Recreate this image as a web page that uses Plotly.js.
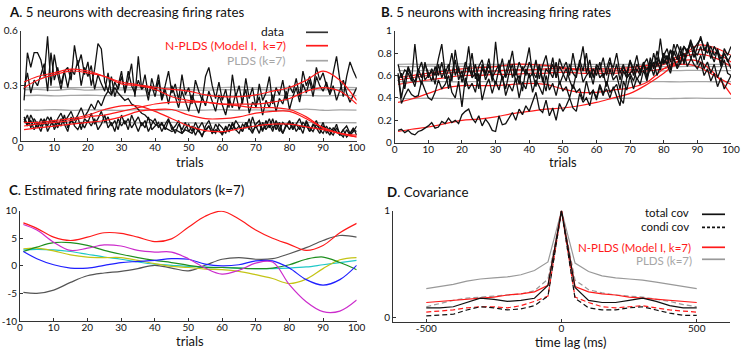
<!DOCTYPE html>
<html>
<head>
<meta charset="utf-8">
<script src="https://cdn.plot.ly/plotly-3.0.1.min.js"></script>
<style>
  body { margin: 0; background: #fff; }
  #chart { width: 747px; height: 351px; }
</style>
</head>
<body>
<div id="chart"></div>
<script>
// ---- shared x values ----
var trials = Array.from({ length: 100 }, (_, i) => i + 1)
var knots = [1, 5, 10, 15, 20, 25, 30, 35, 40, 45, 50, 55, 60, 65, 70, 75, 80, 85, 90, 95, 100]

// ---- A. decreasing neurons: data ----
var aData1 = [0.22, 0.48, 0.40, 0.48, 0.48, 0.44, 0.35, 0.57, 0.30, 0.47,
  0.36, 0.28, 0.38, 0.40, 0.33, 0.52, 0.41, 0.47, 0.36, 0.43,
  0.30, 0.39, 0.53, 0.50, 0.32, 0.27, 0.35, 0.24, 0.30, 0.38,
  0.26, 0.33, 0.42, 0.24, 0.46, 0.28, 0.30, 0.22, 0.34, 0.27,
  0.36, 0.23, 0.30, 0.38, 0.26, 0.31, 0.22, 0.36, 0.25, 0.29,
  0.20, 0.33, 0.27, 0.22, 0.35, 0.40, 0.30, 0.23, 0.32, 0.22,
  0.28, 0.18, 0.36, 0.24, 0.30, 0.20, 0.34, 0.23, 0.29, 0.18,
  0.31, 0.22, 0.26, 0.35, 0.20, 0.29, 0.25, 0.33, 0.22, 0.30,
  0.26, 0.34, 0.24, 0.38, 0.30, 0.35, 0.28, 0.40, 0.33, 0.37,
  0.30, 0.26, 0.37, 0.46, 0.33, 0.24, 0.35, 0.43, 0.38, 0.34]
var aData2 = [0.28, 0.37, 0.26, 0.33, 0.30, 0.36, 0.42, 0.27, 0.48, 0.33,
  0.40, 0.31, 0.38, 0.29, 0.39, 0.36, 0.44, 0.30, 0.40, 0.35,
  0.41, 0.28, 0.36, 0.31, 0.27, 0.37, 0.25, 0.32, 0.28, 0.35,
  0.27, 0.38, 0.30, 0.26, 0.33, 0.28, 0.36, 0.25, 0.30, 0.24,
  0.33, 0.22, 0.28, 0.20, 0.30, 0.24, 0.18, 0.27, 0.22, 0.16,
  0.25, 0.20, 0.15, 0.24, 0.19, 0.27, 0.21, 0.16, 0.25, 0.20,
  0.14, 0.23, 0.18, 0.26, 0.17, 0.22, 0.28, 0.15, 0.21, 0.19,
  0.24, 0.14, 0.22, 0.18, 0.25, 0.16, 0.23, 0.20, 0.27, 0.17,
  0.24, 0.29, 0.21, 0.31, 0.26, 0.33, 0.24, 0.35, 0.30, 0.27,
  0.32, 0.25, 0.30, 0.22, 0.28, 0.33, 0.26, 0.21, 0.25, 0.29]
var aData3 = [0.12, 0.08, 0.14, 0.10, 0.07, 0.12, 0.09, 0.13, 0.10, 0.08,
  0.12, 0.15, 0.10, 0.13, 0.16, 0.11, 0.14, 0.18, 0.13, 0.16,
  0.20, 0.17, 0.22, 0.19, 0.24, 0.27, 0.25, 0.29, 0.26, 0.24,
  0.22, 0.23, 0.20, 0.19, 0.17, 0.15, 0.14, 0.12, 0.11, 0.09,
  0.08, 0.09, 0.07, 0.06, 0.05, 0.06, 0.05, 0.04, 0.06, 0.05,
  0.04, 0.07, 0.05, 0.03, 0.06, 0.08, 0.04, 0.06, 0.05, 0.04,
  0.07, 0.05, 0.09, 0.06, 0.08, 0.05, 0.10, 0.07, 0.04, 0.09,
  0.11, 0.06, 0.08, 0.12, 0.07, 0.09, 0.05, 0.10, 0.08, 0.11,
  0.07, 0.09, 0.06, 0.10, 0.08, 0.05, 0.09, 0.07, 0.04, 0.08,
  0.06, 0.03, 0.07, 0.05, 0.03, 0.06, 0.02, 0.04, 0.07, 0.03]
var aData4 = [0.10, 0.14, 0.07, 0.12, 0.09, 0.05, 0.11, 0.08, 0.13, 0.06,
  0.10, 0.08, 0.14, 0.07, 0.11, 0.09, 0.13, 0.06, 0.12, 0.10,
  0.15, 0.09, 0.12, 0.16, 0.10, 0.13, 0.08, 0.11, 0.06, 0.14,
  0.09, 0.12, 0.07, 0.10, 0.13, 0.08, 0.11, 0.05, 0.09, 0.12,
  0.07, 0.10, 0.06, 0.11, 0.08, 0.04, 0.09, 0.06, 0.10, 0.05,
  0.08, 0.03, 0.07, 0.10, 0.05, 0.08, 0.04, 0.09, 0.06, 0.03,
  0.08, 0.05, 0.10, 0.06, 0.04, 0.09, 0.07, 0.12, 0.05, 0.08,
  0.04, 0.10, 0.06, 0.09, 0.05, 0.11, 0.07, 0.04, 0.08, 0.10,
  0.06, 0.09, 0.12, 0.07, 0.10, 0.05, 0.08, 0.11, 0.06, 0.04,
  0.08, 0.05, 0.03, 0.07, 0.04, 0.02, 0.06, 0.03, 0.05, 0.08]
var aData5 = [0.13, 0.09, 0.11, 0.06, 0.10, 0.08, 0.12, 0.05, 0.09, 0.11,
  0.07, 0.12, 0.09, 0.05, 0.13, 0.08, 0.06, 0.10, 0.07, 0.11,
  0.08, 0.12, 0.06, 0.09, 0.14, 0.07, 0.10, 0.05, 0.12, 0.08,
  0.11, 0.06, 0.14, 0.09, 0.05, 0.10, 0.07, 0.13, 0.06, 0.08,
  0.10, 0.05, 0.09, 0.12, 0.06, 0.08, 0.11, 0.04, 0.07, 0.09,
  0.05, 0.10, 0.06, 0.02, 0.08, 0.11, 0.06, 0.04, 0.09, 0.07,
  0.04, 0.09, 0.06, 0.11, 0.08, 0.05, 0.10, 0.06, 0.13, 0.07,
  0.09, 0.05, 0.11, 0.07, 0.12, 0.06, 0.10, 0.04, 0.09, 0.06,
  0.10, 0.05, 0.08, 0.04, 0.11, 0.07, 0.05, 0.09, 0.06, 0.10,
  0.04, 0.07, 0.05, 0.09, 0.03, 0.06, 0.08, 0.04, 0.06, 0.05]

// ---- A. N-PLDS fits (at knots) ----
var aFit1 = [0.32, 0.35, 0.37, 0.39, 0.38, 0.35, 0.32, 0.305, 0.29, 0.28, 0.27, 0.25, 0.24, 0.24, 0.25, 0.27, 0.29, 0.33, 0.38, 0.33, 0.22]
var aFit2 = [0.29, 0.33, 0.36, 0.38, 0.37, 0.35, 0.31, 0.30, 0.28, 0.24, 0.22, 0.21, 0.20, 0.20, 0.20, 0.21, 0.23, 0.27, 0.29, 0.27, 0.20]
var aFit3 = [0.08, 0.09, 0.10, 0.11, 0.13, 0.14, 0.16, 0.18, 0.20, 0.21, 0.21, 0.21, 0.20, 0.19, 0.18, 0.18, 0.17, 0.13, 0.07, 0.04, 0.03]
var aFit4 = [0.06, 0.07, 0.08, 0.09, 0.10, 0.11, 0.13, 0.16, 0.17, 0.17, 0.14, 0.12, 0.12, 0.13, 0.15, 0.16, 0.16, 0.12, 0.07, 0.04, 0.02]
var aFit5 = [0.10, 0.10, 0.11, 0.12, 0.14, 0.17, 0.19, 0.19, 0.16, 0.12, 0.08, 0.055, 0.05, 0.065, 0.08, 0.09, 0.09, 0.075, 0.06, 0.04, 0.02]

// ---- A. PLDS fits (at knots) ----
var aPlds1 = [0.29, 0.288, 0.292, 0.289, 0.291, 0.29, 0.288, 0.29, 0.291, 0.289, 0.29, 0.288, 0.29, 0.292, 0.289, 0.29, 0.291, 0.29, 0.288, 0.29, 0.29]
var aPlds2 = [0.278, 0.28, 0.274, 0.282, 0.276, 0.28, 0.277, 0.279, 0.276, 0.28, 0.278, 0.276, 0.279, 0.277, 0.28, 0.276, 0.278, 0.28, 0.277, 0.279, 0.278]
var aPlds3 = [0.246, 0.248, 0.245, 0.247, 0.248, 0.246, 0.247, 0.245, 0.248, 0.246, 0.247, 0.248, 0.246, 0.245, 0.247, 0.248, 0.246, 0.247, 0.245, 0.247, 0.246]
var aPlds4 = [0.168, 0.166, 0.17, 0.165, 0.168, 0.167, 0.165, 0.169, 0.166, 0.168, 0.165, 0.167, 0.169, 0.166, 0.168, 0.165, 0.167, 0.172, 0.166, 0.168, 0.167]
var aPlds5 = [0.098, 0.1, 0.097, 0.099, 0.101, 0.098, 0.1, 0.097, 0.099, 0.1, 0.098, 0.096, 0.099, 0.1, 0.098, 0.099, 0.097, 0.1, 0.098, 0.099, 0.098]

// ---- B. increasing neurons: data ----
var bData1 = [0.11, 0.12, 0.09, 0.11, 0.08, 0.07, 0.10, 0.11, 0.13, 0.15,
  0.18, 0.13, 0.14, 0.19, 0.17, 0.22, 0.18, 0.20, 0.17, 0.25,
  0.28, 0.30, 0.22, 0.18, 0.24, 0.15, 0.21, 0.17, 0.11, 0.10,
  0.24, 0.16, 0.17, 0.22, 0.27, 0.20, 0.30, 0.25, 0.33, 0.28,
  0.36, 0.45, 0.30, 0.27, 0.38, 0.24, 0.31, 0.20, 0.35, 0.28,
  0.33, 0.40, 0.31, 0.28, 0.44, 0.36, 0.40, 0.33, 0.47, 0.38,
  0.50, 0.42, 0.55, 0.45, 0.48, 0.52, 0.40, 0.35, 0.58, 0.62,
  0.55, 0.66, 0.60, 0.70, 0.65, 0.72, 0.68, 0.76, 0.70, 0.80,
  0.74, 0.83, 0.78, 0.88, 0.80, 0.86, 0.82, 0.90, 0.84, 0.88,
  0.93, 0.85, 0.80, 0.86, 0.78, 0.83, 0.75, 0.80, 0.72, 0.78]
var bData2 = [0.60, 0.35, 0.42, 0.48, 0.43, 0.41, 0.42, 0.55, 0.47, 0.40,
  0.38, 0.45, 0.56, 0.48, 0.52, 0.60, 0.45, 0.40, 0.55, 0.32,
  0.58, 0.48, 0.53, 0.45, 0.62, 0.38, 0.50, 0.57, 0.44, 0.55,
  0.47, 0.60, 0.42, 0.52, 0.46, 0.58, 0.40, 0.54, 0.48, 0.62,
  0.45, 0.56, 0.50, 0.43, 0.60, 0.47, 0.53, 0.42, 0.55, 0.46,
  0.50, 0.40, 0.52, 0.45, 0.48, 0.38, 0.55, 0.43, 0.47, 0.40,
  0.52, 0.44, 0.48, 0.40, 0.50, 0.42, 0.33, 0.55, 0.47, 0.60,
  0.48, 0.58, 0.52, 0.65, 0.55, 0.70, 0.60, 0.73, 0.65, 0.78,
  0.70, 0.82, 0.74, 0.68, 0.80, 0.72, 0.84, 0.76, 0.70, 0.66,
  0.72, 0.60, 0.66, 0.55, 0.62, 0.50, 0.58, 0.48, 0.54, 0.60]
var bData3 = [0.70, 0.58, 0.65, 0.62, 0.55, 0.88, 0.60, 0.52, 0.72, 0.58,
  0.66, 0.60, 0.75, 0.88, 0.62, 0.70, 0.55, 0.83, 0.64, 0.58,
  0.72, 0.63, 0.80, 0.57, 0.68, 0.74, 0.60, 0.70, 0.55, 0.90,
  0.62, 0.75, 0.58, 0.68, 0.82, 0.60, 0.72, 0.64, 0.70, 0.85,
  0.60, 0.74, 0.57, 0.69, 0.78, 0.62, 0.70, 0.58, 0.75, 0.66,
  0.72, 0.60, 0.80, 0.64, 0.70, 0.86, 0.62, 0.74, 0.58, 0.70,
  0.65, 0.76, 0.60, 0.72, 0.67, 0.80, 0.62, 0.70, 0.58, 0.73,
  0.66, 0.78, 0.62, 0.70, 0.75, 0.64, 0.80, 0.68, 0.93, 0.70,
  0.78, 0.65, 0.82, 0.74, 0.86, 0.70, 0.80, 0.88, 0.76, 0.85,
  0.95, 0.82, 0.88, 0.75, 0.86, 0.80, 0.70, 0.84, 0.78, 0.86]
var bData4 = [0.62, 0.40, 0.56, 0.68, 0.60, 0.54, 0.66, 0.58, 0.70, 0.62,
  0.55, 0.68, 0.60, 0.72, 0.57, 0.65, 0.80, 0.60, 0.68, 0.54,
  0.64, 0.86, 0.60, 0.70, 0.55, 0.66, 0.62, 0.75, 0.58, 0.64,
  0.70, 0.56, 0.62, 0.74, 0.58, 0.66, 0.52, 0.68, 0.60, 0.72,
  0.64, 0.58, 0.70, 0.54, 0.66, 0.62, 0.76, 0.58, 0.68, 0.62,
  0.55, 0.70, 0.62, 0.58, 0.74, 0.64, 0.80, 0.58, 0.66, 0.60,
  0.72, 0.58, 0.66, 0.76, 0.60, 0.70, 0.56, 0.68, 0.62, 0.74,
  0.60, 0.70, 0.64, 0.72, 0.58, 0.76, 0.66, 0.82, 0.70, 0.78,
  0.84, 0.72, 0.88, 0.78, 0.70, 0.86, 0.80, 0.92, 0.82, 0.78,
  0.86, 0.74, 0.90, 0.80, 0.72, 0.84, 0.68, 0.80, 0.74, 0.66]
var bData5 = [0.55, 0.62, 0.48, 0.66, 0.58, 0.50, 0.64, 0.72, 0.56, 0.60,
  0.64, 0.52, 0.70, 0.58, 0.66, 0.48, 0.62, 0.74, 0.56, 0.64,
  0.50, 0.68, 0.58, 0.62, 0.48, 0.70, 0.56, 0.64, 0.60, 0.52,
  0.66, 0.58, 0.48, 0.62, 0.70, 0.54, 0.60, 0.46, 0.66, 0.58,
  0.62, 0.50, 0.68, 0.56, 0.46, 0.64, 0.58, 0.72, 0.52, 0.60,
  0.66, 0.56, 0.48, 0.62, 0.70, 0.54, 0.60, 0.64, 0.52, 0.68,
  0.58, 0.62, 0.50, 0.66, 0.56, 0.60, 0.48, 0.64, 0.58, 0.62,
  0.66, 0.56, 0.62, 0.70, 0.58, 0.66, 0.72, 0.60, 0.68, 0.74,
  0.70, 0.62, 0.76, 0.66, 0.72, 0.80, 0.68, 0.74, 0.84, 0.70,
  0.78, 0.66, 0.72, 0.62, 0.70, 0.58, 0.66, 0.74, 0.62, 0.60]

// ---- B. N-PLDS fits (at knots) ----
var bFit1 = [0.10, 0.12, 0.14, 0.17, 0.20, 0.21, 0.23, 0.26, 0.28, 0.30, 0.31, 0.33, 0.36, 0.40, 0.44, 0.52, 0.62, 0.75, 0.87, 0.85, 0.78]
var bFit2 = [0.36, 0.39, 0.44, 0.49, 0.51, 0.51, 0.51, 0.52, 0.53, 0.52, 0.48, 0.45, 0.45, 0.47, 0.49, 0.54, 0.66, 0.73, 0.73, 0.62, 0.43]
var bFit3 = [0.56, 0.58, 0.60, 0.62, 0.63, 0.64, 0.64, 0.65, 0.65, 0.66, 0.66, 0.66, 0.66, 0.66, 0.67, 0.69, 0.72, 0.78, 0.83, 0.81, 0.72]
var bFit4 = [0.58, 0.60, 0.62, 0.64, 0.66, 0.67, 0.68, 0.70, 0.70, 0.69, 0.67, 0.65, 0.64, 0.64, 0.65, 0.67, 0.70, 0.76, 0.79, 0.76, 0.68]
var bFit5 = [0.52, 0.54, 0.56, 0.58, 0.60, 0.60, 0.61, 0.61, 0.62, 0.62, 0.63, 0.62, 0.62, 0.62, 0.63, 0.64, 0.66, 0.70, 0.68, 0.60, 0.52]

// ---- B. PLDS fits (at knots) ----
var bPlds1 = [0.70, 0.702, 0.698, 0.70, 0.703, 0.699, 0.70, 0.701, 0.698, 0.70, 0.702, 0.699, 0.70, 0.701, 0.698, 0.70, 0.703, 0.70, 0.699, 0.70, 0.70]
var bPlds2 = [0.682, 0.68, 0.684, 0.679, 0.682, 0.68, 0.683, 0.68, 0.678, 0.682, 0.68, 0.683, 0.679, 0.681, 0.68, 0.682, 0.679, 0.68, 0.683, 0.68, 0.681]
var bPlds3 = [0.645, 0.642, 0.646, 0.644, 0.64, 0.645, 0.643, 0.646, 0.642, 0.644, 0.645, 0.641, 0.644, 0.646, 0.643, 0.645, 0.642, 0.644, 0.646, 0.643, 0.644]
var bPlds4 = [0.546, 0.544, 0.547, 0.545, 0.543, 0.546, 0.544, 0.547, 0.545, 0.544, 0.546, 0.543, 0.545, 0.547, 0.544, 0.546, 0.545, 0.543, 0.546, 0.544, 0.545]
var bPlds5 = [0.396, 0.394, 0.397, 0.395, 0.393, 0.396, 0.398, 0.395, 0.394, 0.397, 0.395, 0.393, 0.396, 0.394, 0.397, 0.395, 0.393, 0.396, 0.398, 0.395, 0.396]

// ---- C. estimated firing-rate modulators (at knots) ----
var cRed     = [7.8, 6.8, 5.2, 4.6, 5.2, 6.0, 5.9, 5.2, 4.4, 4.9, 7.0, 9.0, 9.9, 8.5, 6.5, 5.0, 3.9, 2.8, 3.7, 6.0, 7.7]
var cMagenta = [7.5, 6.5, 4.3, 2.8, 3.2, 3.8, 3.6, 2.8, 2.5, 2.5, 1.3, -0.4, -1.5, -0.8, 0.5, 0.7, -3.4, -6.5, -8.3, -8.2, -6.2]
var cGreen   = [2.6, 3.4, 4.2, 4.2, 3.7, 2.8, 2.1, 1.5, 1.0, 0.6, 0.1, -0.3, -0.3, -0.4, -0.5, -0.4, 0.2, 1.2, 1.6, 0.6, -0.7]
var cBlue    = [2.6, 1.3, 0.2, -0.4, -0.4, 0.1, 0.6, 0.8, 1.0, 1.3, 1.2, 0.3, 0.0, 0.2, 0.9, 0.9, -0.4, -2.5, -3.5, -2.5, 0.1]
var cCyan    = [2.9, 3.0, 2.9, 2.6, 2.1, 1.6, 1.2, 0.7, 0.3, 0.1, -0.1, -0.2, -0.3, -0.4, -0.5, -0.5, -0.4, -0.2, 0.2, 0.6, 1.0]
var cYellow  = [3.1, 3.2, 2.7, 2.0, 1.6, 1.5, 1.5, 1.0, 0.4, -0.1, -0.3, -0.6, -0.7, -1.0, -1.6, -2.3, -3.2, -2.4, -0.5, 1.1, 1.5]
var cGray    = [-4.8, -5.0, -4.4, -3.0, -1.8, -1.3, -1.0, -0.5, 0.1, -0.4, -0.9, 0.1, 1.2, 1.5, 1.2, 1.3, 2.2, 3.3, 4.6, 5.5, 5.2]

// ---- D. covariance vs time lag ----
var dLag = [-500, -450, -400, -350, -300, -250, -200, -150, -100, -50, 0, 50, 100, 150, 200, 250, 300, 350, 400, 450, 500]
var dDataTotal = [0.09, 0.09, 0.10, 0.14, 0.18, 0.17, 0.15, 0.16, 0.18, 0.30, 1.0, 0.28, 0.16, 0.14, 0.14, 0.16, 0.18, 0.15, 0.11, 0.09, 0.09]
var dDataCondi = [0.015, 0.02, 0.03, 0.07, 0.10, 0.09, 0.07, 0.08, 0.11, 0.20, 1.0, 0.18, 0.09, 0.07, 0.07, 0.09, 0.10, 0.07, 0.04, 0.02, 0.02]
var dNpldsTotal = [0.14, 0.15, 0.16, 0.17, 0.18, 0.19, 0.21, 0.22, 0.24, 0.30, 1.0, 0.29, 0.24, 0.22, 0.21, 0.19, 0.18, 0.17, 0.16, 0.15, 0.14]
var dNpldsCondi = [0.05, 0.06, 0.07, 0.09, 0.10, 0.10, 0.09, 0.11, 0.15, 0.20, 1.0, 0.19, 0.14, 0.10, 0.09, 0.10, 0.11, 0.09, 0.07, 0.06, 0.05]
var dPldsTotal = [0.27, 0.29, 0.31, 0.34, 0.36, 0.37, 0.38, 0.40, 0.44, 0.52, 1.0, 0.51, 0.43, 0.39, 0.37, 0.36, 0.35, 0.33, 0.31, 0.29, 0.27]
var dPldsCondi = [0.10, 0.13, 0.16, 0.18, 0.19, 0.20, 0.21, 0.22, 0.25, 0.36, 1.0, 0.35, 0.26, 0.23, 0.21, 0.20, 0.19, 0.17, 0.15, 0.12, 0.10]

var BLACK = '#111'
var RED = '#ff1a1a'
var GREY = '#a6a6a6'

var traces = []
function line (x, y, xa, ya, color, width, dash, shape) {
  traces.push({
    x: x, y: y, xaxis: xa, yaxis: ya, type: 'scatter', mode: 'lines',
    line: { color: color, width: width, dash: dash || 'solid', shape: shape || 'linear' },
    hoverinfo: 'skip'
  })
}

// A
;[aPlds1, aPlds2, aPlds3, aPlds4, aPlds5].forEach(s => line(knots, s, 'x', 'y', GREY, 1.3, null, 'spline'))
;[aData1, aData2, aData3, aData4, aData5].forEach(s => line(trials, s, 'x', 'y', BLACK, 1.3))
;[aFit1, aFit2, aFit3, aFit4, aFit5].forEach(s => line(knots, s, 'x', 'y', RED, 1.2, null, 'spline'))
// B
;[bPlds1, bPlds2, bPlds3, bPlds4, bPlds5].forEach(s => line(knots, s, 'x2', 'y2', GREY, 1.3, null, 'spline'))
;[bFit1, bFit2, bFit3, bFit4, bFit5].forEach(s => line(knots, s, 'x2', 'y2', RED, 1.2, null, 'spline'))
;[bData1, bData2, bData3, bData4, bData5].forEach(s => line(trials, s, 'x2', 'y2', BLACK, 1.3))
// C
line(knots, cGray, 'x3', 'y3', '#555555', 1.2, null, 'spline')
line(knots, cCyan, 'x3', 'y3', '#1fc8c8', 1.2, null, 'spline')
line(knots, cYellow, 'x3', 'y3', '#c4c416', 1.2, null, 'spline')
line(knots, cGreen, 'x3', 'y3', '#1f8f1f', 1.2, null, 'spline')
line(knots, cBlue, 'x3', 'y3', '#1f1fff', 1.2, null, 'spline')
line(knots, cMagenta, 'x3', 'y3', '#cc2ccc', 1.2, null, 'spline')
line(knots, cRed, 'x3', 'y3', '#ff1a1a', 1.2, null, 'spline')
// D
line(dLag, dPldsTotal, 'x4', 'y4', '#999', 1.2)
line(dLag, dPldsCondi, 'x4', 'y4', '#999', 1.2, '5px,3px')
line(dLag, dNpldsTotal, 'x4', 'y4', RED, 1.2)
line(dLag, dNpldsCondi, 'x4', 'y4', RED, 1.2, '5px,3px')
line(dLag, dDataTotal, 'x4', 'y4', BLACK, 1.2)
line(dLag, dDataCondi, 'x4', 'y4', BLACK, 1.2, '5px,3px')

var FONT = 'Lato, "Liberation Sans", Arial, sans-serif'
var W = 747, H = 351
function px (x) { return x / W }
function py (y) { return 1 - y / H }

function axis (extra) {
  return Object.assign({
    showline: true, linecolor: '#333', linewidth: 1, mirror: false,
    showgrid: false, zeroline: false,
    ticks: 'inside', ticklen: 3, tickcolor: '#333', tickwidth: 1,
    tickfont: { family: FONT, size: 10, color: '#111' },
    fixedrange: true
  }, extra)
}
var trialTicks = [0, 10, 20, 30, 40, 50, 60, 70, 80, 90, 100]

function note (text, x, y, xanchor, size, color) {
  return {
    text: text, xref: 'paper', yref: 'paper', x: px(x), y: py(y),
    xanchor: xanchor, yanchor: 'middle', showarrow: false,
    font: { family: FONT, size: size, color: color || '#111' }
  }
}
function sample (x0, x1, y, color, dash) {
  return {
    type: 'line', xref: 'paper', yref: 'paper',
    x0: px(x0), x1: px(x1), y0: py(y), y1: py(y),
    line: { color: color, width: 1.7, dash: dash || 'solid' }
  }
}

var layout = {
  width: W, height: H,
  margin: { l: 0, r: 0, t: 0, b: 0 },
  paper_bgcolor: '#fff', plot_bgcolor: 'rgba(0,0,0,0)',
  showlegend: false,
  font: { family: FONT },
  xaxis: axis({ domain: [px(20.7), px(356.7)], range: [0, 100], tickvals: trialTicks, anchor: 'y', ticklabelstandoff: -3 }),
  yaxis: axis({ domain: [py(140.7), py(30.7)], range: [0, 0.6], tickvals: [0, 0.3, 0.6], ticktext: ['0', '0.3', '0.6'], anchor: 'x' }),
  xaxis2: axis({ domain: [px(394.7), px(731)], range: [0, 100], tickvals: trialTicks, anchor: 'y2', ticklabelstandoff: -3 }),
  yaxis2: axis({ domain: [py(142.7), py(30.7)], range: [0, 1], tickvals: [0, 0.2, 0.4, 0.6, 0.8, 1], ticktext: ['0', '0.2', '0.4', '0.6', '0.8', '1'], anchor: 'x2' }),
  xaxis3: axis({ domain: [px(20), px(356.7)], range: [0, 100], tickvals: trialTicks, anchor: 'y3', ticklabelstandoff: -3 }),
  yaxis3: axis({ domain: [py(321), py(210.7)], range: [-10, 10], tickvals: [-10, -5, 0, 5, 10], ticktext: ['-10', '-5', '0', '5', '10'], anchor: 'x3' }),
  xaxis4: axis({ domain: [px(393), px(730)], range: [-623, 623], tickvals: [-500, 0, 500], ticktext: ['-500', '0', '500'], anchor: 'y4', ticklabelstandoff: -3 }),
  yaxis4: axis({ domain: [py(321.7), py(210.7)], range: [-0.04, 1.0], tickvals: [0, 1], anchor: 'x4' }),
  annotations: [
    note('<b>A</b>. 5 neurons with decreasing firing rates', 7, 12, 'left', 13.3),
    note('<b>B</b>. 5 neurons with increasing firing rates', 379, 12, 'left', 13.3),
    note('<b>C</b>. Estimated firing rate modulators (k=7)', 7, 190, 'left', 13.3),
    note('<b>D</b>. Covariance', 385, 191.7, 'left', 13.3),
    note('trials', 190.3, 161.5, 'center', 13),
    note('trials', 563, 162, 'center', 13),
    note('trials', 190.3, 341, 'center', 13),
    note('time lag (ms)', 570.3, 342, 'center', 13),
    note('data', 286, 31.5, 'right', 12),
    note('N-PLDS (Model I,  k=7)', 288, 45.9, 'right', 12, '#ff1a1a'),
    note('PLDS (k=7)', 288, 60.9, 'right', 12, '#a6a6a6'),
    note('total cov', 691, 213, 'right', 11.5),
    note('condi cov', 691, 226.9, 'right', 11.5),
    note('N-PLDS (Model I, k=7)', 692.7, 247.3, 'right', 11.5, '#ff1a1a'),
    note('PLDS (k=7)', 693.7, 260.9, 'right', 11.5, '#a6a6a6')
  ],
  shapes: [
    sample(306, 328, 32.3, '#333'),
    sample(306, 328, 45.7, '#ff1a1a'),
    sample(306, 328, 60.7, '#a6a6a6'),
    sample(702, 725, 214.3, '#111'),
    sample(702, 725, 227.3, '#111', '3px,2px'),
    sample(702, 725, 247.3, '#ff1a1a'),
    sample(702, 725, 259.3, '#999')
  ]
}

Plotly.newPlot('chart', traces, layout, { displayModeBar: false, staticPlot: true })
</script>
</body>
</html>
